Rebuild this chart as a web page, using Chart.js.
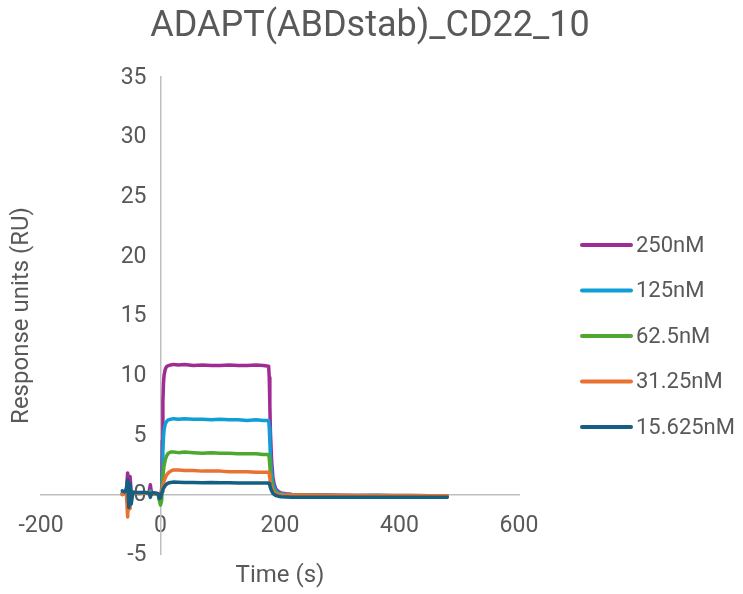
<!DOCTYPE html>
<html lang="en">
<head>
    <meta charset="UTF-8">
    <title>ADAPT(ABDstab)_CD22_10</title>
    <script src="https://cdn.jsdelivr.net/npm/chart.js"></script>
    <style>
      body { margin: 0; background: #fff; }
      #wrap { width: 743px; height: 594px; }
    </style>
</head>
<body>
    <div id="wrap"><canvas id="myChart"></canvas></div>

    <script>
    const chartTitle = 'ADAPT(ABDstab)_CD22_10';
    const xTitle = 'Time (s)';
    const yTitle = 'Response units (RU)';

    const seriesNames = ['250nM', '125nM', '62.5nM', '31.25nM', '15.625nM'];
    const seriesColors = ['#A02B93', '#0F9ED5', '#4EA72E', '#E97132', '#156082'];

    // time points (s), shared by all series
    const times = [-64, -60, -57, -55, -53, -51, -49, -46, -42, -36, -30, -24, -19, -17, -15, -12, -8, -4, -2, 0,
                   2, 3, 4, 5, 6, 8, 10, 13, 17, 22, 30, 40, 55, 70, 85, 100, 115, 130, 145, 160, 172,
                   181, 182, 183, 184, 186, 188, 190, 193, 197, 202, 210, 220, 240, 270, 300, 330, 360, 390, 420, 450, 480];

    const r250 = [0.1, 0.2, 0.4, 1.8, 0.3, 1.5, 0.2, 0.1, 0.15, 0.1, 0.15, 0.1, 0.2, 0.8, 0.1, 0.1, 0.1, 0.05, -0.1, -0.3,
                  0.5, 4.5, 7.8, 9.3, 10.0, 10.5, 10.7, 10.8, 10.85, 10.9, 10.85, 10.9, 10.8, 10.85, 10.8, 10.8, 10.85, 10.8, 10.8, 10.85, 10.8,
                  10.75, 9.8, 7.5, 5.2, 2.8, 1.5, 0.9, 0.45, 0.25, 0.12, 0.05, 0.0, -0.05, -0.05, -0.1, -0.1, -0.1, -0.12, -0.12, -0.15, -0.15];
    const r125 = [0.0, 0.1, 0.2, -0.5, -1.1, 0.6, -0.3, 0.1, 0.1, 0.05, 0.1, 0.1, 0.1, 0.3, 0.0, 0.05, 0.05, 0.0, -0.2, -0.5,
                  0.2, 1.8, 3.6, 4.8, 5.4, 5.9, 6.1, 6.25, 6.3, 6.35, 6.3, 6.35, 6.3, 6.3, 6.25, 6.3, 6.25, 6.25, 6.2, 6.25, 6.2,
                  6.2, 5.6, 4.4, 3.1, 1.7, 0.95, 0.6, 0.3, 0.15, 0.08, 0.02, -0.02, -0.05, -0.05, -0.08, -0.1, -0.08, -0.1, -0.1, -0.12, -0.12];
    const r62 = [0.0, 0.1, 0.1, 0.4, -0.6, 0.3, -0.2, 0.1, 0.1, 0.1, 0.1, 0.1, 0.1, 0.2, 0.05, 0.05, 0.05, 0.0, -0.5, -0.9,
                 -0.5, 0.8, 1.5, 2.0, 2.4, 2.9, 3.2, 3.45, 3.55, 3.55, 3.5, 3.55, 3.5, 3.45, 3.5, 3.45, 3.45, 3.4, 3.4, 3.4, 3.35,
                 3.35, 3.0, 2.4, 1.7, 0.95, 0.5, 0.3, 0.12, 0.05, 0.0, -0.05, -0.05, -0.08, -0.1, -0.12, -0.15, -0.2, -0.22, -0.2, -0.22, -0.2];
    const r31 = [0.0, 0.1, 0.0, -1.9, 0.4, -1.2, 0.2, 0.1, 0.1, 0.1, 0.1, 0.1, 0.1, 0.1, 0.05, 0.05, 0.05, 0.0, -0.1, -0.2,
                 0.3, 0.5, 0.75, 0.95, 1.1, 1.4, 1.6, 1.8, 1.95, 2.05, 2.05, 2.0, 2.0, 1.95, 1.95, 1.95, 1.9, 1.9, 1.9, 1.85, 1.85,
                 1.85, 1.7, 1.35, 1.0, 0.55, 0.3, 0.15, 0.05, 0.0, -0.03, -0.05, -0.05, -0.05, -0.08, -0.08, -0.1, -0.1, -0.1, -0.1, -0.12, -0.12];
    const r15 = [0.3, 0.2, 0.5, 1.2, -1.1, 0.9, -0.8, 0.2, 0.15, 0.15, 0.15, 0.15, 0.1, -0.25, 0.1, 0.15, 0.1, 0.05, -0.35, -0.3,
                 0.1, 0.25, 0.4, 0.5, 0.6, 0.75, 0.85, 0.95, 1.0, 1.03, 1.02, 1.0, 1.0, 0.98, 1.0, 0.97, 0.97, 0.95, 0.96, 0.95, 0.95,
                 0.95, 0.9, 0.75, 0.55, 0.3, 0.1, 0.0, -0.1, -0.15, -0.2, -0.22, -0.25, -0.25, -0.25, -0.25, -0.25, -0.25, -0.25, -0.25, -0.25, -0.25];
    const seriesValues = [r250, r125, r62, r31, r15];

    const xTicks = { min: -200, max: 600, step: 200 };
    const yTicks = { min: -5, max: 35, step: 5 };

    const textColor = '#595959';
    const axisColor = '#BFBFBF';
    const tickFont = '23px Roboto';

    // y tick labels next to the crossing axis, then titles and legend
    const decor = {
      id: 'decor',
      beforeDatasetsDraw(chart) {
        const { ctx, scales } = chart;
        const xAt = scales.x.getPixelForValue(0) - 14;
        ctx.save();
        ctx.fillStyle = textColor;
        ctx.font = tickFont;
        ctx.textAlign = 'right';
        ctx.textBaseline = 'middle';
        scales.y.ticks.forEach(t => {
          ctx.fillText(String(t.value), xAt, scales.y.getPixelForValue(t.value) + 1);
        });
        ctx.restore();
      },
      afterDraw(chart) {
        const { ctx, chartArea: a } = chart;
        ctx.save();
        ctx.fillStyle = textColor;
        ctx.textAlign = 'center';
        ctx.textBaseline = 'middle';
        ctx.font = '36px Roboto';
        ctx.fillText(chartTitle, 370, 27);
        ctx.font = '24px Roboto';
        ctx.fillText(xTitle, (a.left + a.right) / 2, 576);
        ctx.save();
        ctx.translate(22, (a.top + a.bottom) / 2);
        ctx.rotate(-Math.PI / 2);
        ctx.fillText(yTitle, 0, 0);
        ctx.restore();

        ctx.textAlign = 'left';
        ctx.font = '22px Roboto';
        seriesNames.forEach((name, i) => {
          const y = 245 + i * 45.5;
          ctx.strokeStyle = seriesColors[i];
          ctx.lineWidth = 4;
          ctx.lineCap = 'round';
          ctx.beginPath();
          ctx.moveTo(582, y);
          ctx.lineTo(631, y);
          ctx.stroke();
          ctx.fillStyle = textColor;
          ctx.fillText(name, 636, y + 1);
        });
        ctx.restore();
      }
    };

    const datasets = seriesNames.map((name, i) => ({
      label: name,
      data: times.map((t, j) => ({ x: t, y: seriesValues[i][j] })),
      borderColor: seriesColors[i],
      backgroundColor: seriesColors[i],
      borderWidth: 3.5,
      borderCapStyle: 'round',
      borderJoinStyle: 'round',
      pointRadius: 0,
      tension: 0,
      order: seriesNames.length - 1 - i
    }));

    const ctx = document.getElementById('myChart').getContext('2d');
    const myChart = new Chart(ctx, {
      type: 'line',
      data: { datasets: datasets },
      plugins: [decor],
      options: {
        responsive: true,
        maintainAspectRatio: false,
        animation: false,
        layout: { padding: { left: 41, right: 224, top: 77, bottom: 40 } },
        plugins: {
          legend: { display: false },
          title: { display: false },
          tooltip: { enabled: false }
        },
        scales: {
          x: {
            type: 'linear',
            position: { y: 0 },
            min: xTicks.min,
            max: xTicks.max,
            grid: { display: false, drawTicks: false },
            border: { display: true, color: axisColor, width: 1.5 },
            ticks: { stepSize: xTicks.step, color: textColor, font: { family: 'Roboto', size: 23 }, padding: 18, maxRotation: 0 }
          },
          y: {
            type: 'linear',
            position: { x: 0 },
            min: yTicks.min,
            max: yTicks.max,
            grid: { display: false, drawTicks: false },
            border: { display: true, color: axisColor, width: 1.5 },
            ticks: { stepSize: yTicks.step, display: false }
          }
        }
      }
    });
    </script>
</body>
</html>
